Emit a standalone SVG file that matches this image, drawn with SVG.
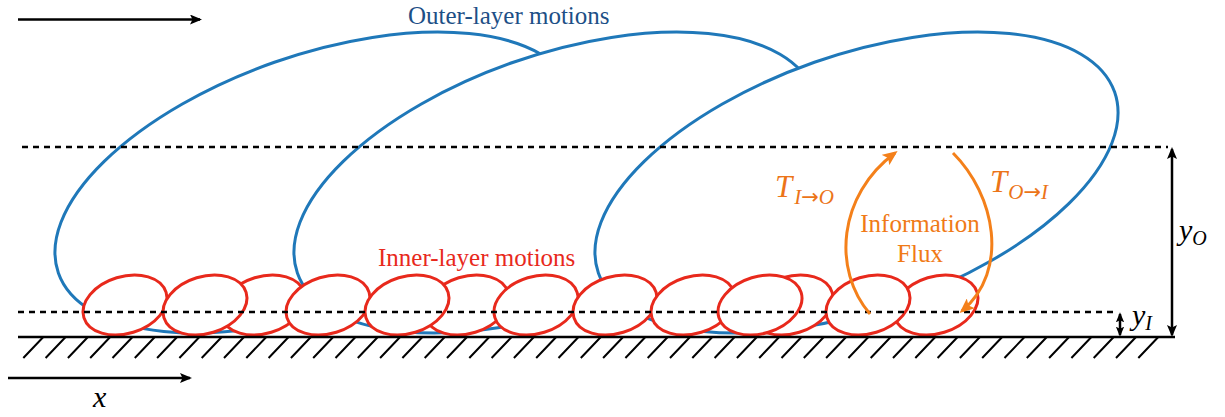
<svg xmlns="http://www.w3.org/2000/svg" width="1225" height="417" viewBox="0 0 1225 417">
<style>
.outer{fill:#fff;stroke:#1f78b9;stroke-width:3}
.inner{fill:#fff;stroke:#e8291c;stroke-width:3}
.dash{stroke:#000;stroke-width:2.5;stroke-dasharray:6 5;fill:none}
.blk{stroke:#000;stroke-width:2.5;fill:none}
.flux{stroke:#f4801a;stroke-width:3;fill:none;marker-end:url(#oh)}
.lbl{font-family:"Liberation Serif","Times New Roman",serif;font-size:25px}
.math{font-family:"Liberation Serif","Times New Roman",serif;font-style:italic}
.arr{font-family:"DejaVu Sans",sans-serif;font-style:normal}
</style>
<defs>
<marker id="bh" viewBox="0 0 12 10" refX="10" refY="5" markerWidth="12" markerHeight="10" markerUnits="userSpaceOnUse" orient="auto-start-reverse"><path d="M0,0 L12,5 L0,10 L2.5,5 z" fill="#000"/></marker>
<marker id="bhs" viewBox="0 0 12 10" refX="10" refY="5" markerWidth="10" markerHeight="9" markerUnits="userSpaceOnUse" orient="auto-start-reverse"><path d="M0,0 L12,5 L0,10 L2.5,5 z" fill="#000"/></marker>
<marker id="oh" viewBox="0 0 14 12" refX="11" refY="6" markerWidth="15" markerHeight="13" markerUnits="userSpaceOnUse" orient="auto"><path d="M0,0 L14,6 L0,12 L3,6 z" fill="#f4801a"/></marker>
</defs>

<g id="outer-1"><ellipse class="outer" cx="316.5" cy="182.5" rx="273.5" ry="127.4" transform="rotate(-19.3 316.5 182.5)"/></g>
<g id="outer-2"><ellipse class="outer" cx="555.5" cy="182.5" rx="273.5" ry="127.4" transform="rotate(-19.3 555.5 182.5)"/></g>
<g id="outer-3"><ellipse class="outer" cx="856.5" cy="182.5" rx="273.5" ry="127.4" transform="rotate(-19.3 856.5 182.5)"/></g>

<g id="inner-3"><ellipse class="inner" cx="263" cy="305" rx="43" ry="28.5" transform="rotate(-17 263 305)"/></g>
<g id="inner-6"><ellipse class="inner" cx="467" cy="305" rx="43" ry="28.5" transform="rotate(-17 467 305)"/></g>
<g id="inner-11"><ellipse class="inner" cx="791" cy="305" rx="43" ry="28.5" transform="rotate(-17 791 305)"/></g>
<g id="inner-13"><ellipse class="inner" cx="936" cy="305" rx="43" ry="28.5" transform="rotate(-17 936 305)"/></g>
<g id="inner-1"><ellipse class="inner" cx="125" cy="305" rx="43" ry="28.5" transform="rotate(-17 125 305)"/></g>
<g id="inner-2"><ellipse class="inner" cx="205" cy="305" rx="43" ry="28.5" transform="rotate(-17 205 305)"/></g>
<g id="inner-4"><ellipse class="inner" cx="328" cy="305" rx="43" ry="28.5" transform="rotate(-17 328 305)"/></g>
<g id="inner-5"><ellipse class="inner" cx="407" cy="305" rx="43" ry="28.5" transform="rotate(-17 407 305)"/></g>
<g id="inner-7"><ellipse class="inner" cx="536" cy="305" rx="43" ry="28.5" transform="rotate(-17 536 305)"/></g>
<g id="inner-8"><ellipse class="inner" cx="615" cy="305" rx="43" ry="28.5" transform="rotate(-17 615 305)"/></g>
<g id="inner-9"><ellipse class="inner" cx="693" cy="305" rx="43" ry="28.5" transform="rotate(-17 693 305)"/></g>
<g id="inner-10"><ellipse class="inner" cx="760" cy="305" rx="43" ry="28.5" transform="rotate(-17 760 305)"/></g>
<g id="inner-12"><ellipse class="inner" cx="868" cy="305" rx="43" ry="28.5" transform="rotate(-17 868 305)"/></g>

<g id="layers">
<line class="dash" x1="22" y1="147" x2="1168" y2="147"/>
<line class="dash" x1="18" y1="312" x2="1115" y2="312"/>
</g>

<g id="wall">
<line class="blk" x1="18" y1="337" x2="1175" y2="337"/>
<path stroke="#000" stroke-width="2" fill="none" d="M43.3,337l-20,21M65.6,337l-20,21M87.9,337l-20,21M110.2,337l-20,21M132.5,337l-20,21M154.8,337l-20,21M177.1,337l-20,21M199.4,337l-20,21M221.7,337l-20,21M244,337l-20,21M266.3,337l-20,21M288.6,337l-20,21M310.9,337l-20,21M333.2,337l-20,21M355.5,337l-20,21M377.8,337l-20,21M400.1,337l-20,21M422.4,337l-20,21M444.7,337l-20,21M467,337l-20,21M489.3,337l-20,21M511.6,337l-20,21M533.9,337l-20,21M556.2,337l-20,21M578.5,337l-20,21M600.8,337l-20,21M623.1,337l-20,21M645.4,337l-20,21M667.7,337l-20,21M690,337l-20,21M712.3,337l-20,21M734.6,337l-20,21M756.9,337l-20,21M779.2,337l-20,21M801.5,337l-20,21M823.8,337l-20,21M846.1,337l-20,21M868.4,337l-20,21M890.7,337l-20,21M913,337l-20,21M935.3,337l-20,21M957.6,337l-20,21M979.9,337l-20,21M1002.2,337l-20,21M1024.5,337l-20,21M1046.8,337l-20,21M1069.1,337l-20,21M1091.4,337l-20,21M1113.7,337l-20,21M1136,337l-20,21M1158.3,337l-20,21"/>
</g>

<g id="connectors">
<path class="flux" d="M870,314 C832,270 838,195 895,153"/>
<path class="flux" d="M953,153 C995,195 1010,270 962,311"/>
<line class="blk" x1="18" y1="19.5" x2="200" y2="19.5" marker-end="url(#bh)"/>
<line class="blk" x1="8" y1="378" x2="190" y2="378" marker-end="url(#bh)"/>
<line class="blk" x1="1172" y1="149" x2="1172" y2="335" marker-start="url(#bh)" marker-end="url(#bh)"/>
<line class="blk" x1="1120" y1="314" x2="1120" y2="335" marker-start="url(#bhs)" marker-end="url(#bhs)"/>
</g>

<g id="labels">
<text class="lbl" x="408" y="24" fill="#1d4f86">Outer-layer motions</text>
<text class="lbl" x="378" y="266" fill="#e8291c">Inner-layer motions</text>
<text class="lbl" x="920" y="232" fill="#f07a16" text-anchor="middle">Information</text>
<text class="lbl" x="920" y="262" fill="#f07a16" text-anchor="middle">Flux</text>
<text class="math" x="775" y="197" font-size="31" fill="#ec7418">T<tspan font-size="21" dx="2" dy="7">I</tspan><tspan class="arr" font-size="21">→</tspan><tspan font-size="21">O</tspan></text>
<text class="math" x="990" y="192" font-size="31" fill="#ec7418">T<tspan font-size="21" dx="1" dy="7">O</tspan><tspan class="arr" font-size="21">→</tspan><tspan font-size="21">I</tspan></text>
<text class="math" x="1179" y="240" font-size="30">y<tspan font-size="20" dy="5">O</tspan></text>
<text class="math" x="1132" y="325" font-size="30">y<tspan font-size="20" dy="5">I</tspan></text>
<text class="math" x="93" y="407" font-size="30">x</text>
</g>
</svg>
